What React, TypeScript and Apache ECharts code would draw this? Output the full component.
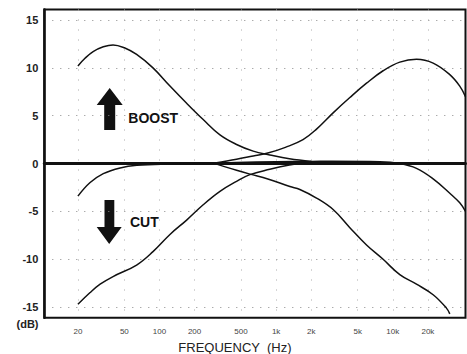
import React, { useEffect, useRef } from "react";
import * as echarts from "echarts";

// Frequency axis tick labels (Hz) and dB ticks
const FREQ_TICKS = [20, 50, 100, 200, 500, 1000, 2000, 5000, 10000, 20000];
const DB_TICKS = [-15, -10, -5, 0, 5, 10, 15];
const FREQ_MIN = 10.3;
const FREQ_MAX = 42000;

// [frequency Hz, level dB]
const BASS_BOOST: [number, number][] = [
  [20, 10.2], [23, 11.0], [27, 11.7], [33, 12.2], [40, 12.4], [50, 12.1],
  [63.7, 11.4], [88, 10.0], [123, 8.1], [171, 6.3], [237, 4.6], [330, 3.0],
  [458, 2.0], [636, 1.3], [883, 0.9], [1300, 0.5], [2000, 0.22],
];
const BASS_CUT: [number, number][] = [
  [20, -14.7], [25.3, -13.5], [31, -12.6], [40, -11.8], [63.7, -10.6], [88, -9.2],
  [123, -7.4], [171, -5.9], [237, -4.3], [330, -2.9], [458, -1.85], [596, -1.15],
  [883, -0.6], [1300, -0.15], [2000, 0.22],
];
const FLAT: [number, number][] = [
  [20, -3.4], [25.3, -2.0], [33, -1.05], [46, -0.45], [64, -0.18], [123, -0.05],
  [237, 0.0], [458, 0.12], [1000, 0.2], [2000, 0.22], [3000, 0.25], [7740, 0.2],
  [11480, 0.0], [15960, -0.5], [22180, -1.6], [30800, -3.1], [37500, -4.1],
  [42000, -5.0],
];
const TREBLE_BOOST: [number, number][] = [
  [300, 0.06], [458, 0.45], [636, 0.8], [849, 1.1], [1200, 1.7],
  [1700, 2.5], [2220, 3.6], [3080, 5.3], [4285, 6.9], [5955, 8.4], [8260, 9.7],
  [11480, 10.6], [15960, 10.9], [22180, 10.5], [30800, 9.3], [37500, 8.1], [42000, 7.0],
];
const TREBLE_CUT: [number, number][] = [
  [300, 0.0], [458, -0.7], [596, -1.1], [849, -1.6], [1312, -2.4],
  [1597, -2.7], [2220, -3.6], [3080, -4.8], [4285, -6.7], [5955, -8.5], [8260, -10.0],
  [11480, -11.6], [15960, -12.6], [22180, -13.7], [28850, -15.1], [30800, -15.7],
];

const CURVES = [BASS_BOOST, BASS_CUT, FLAT, TREBLE_BOOST, TREBLE_CUT];

const FONT = "'Liberation Sans', Arial, Helvetica, sans-serif";

function fmtHz(v: number): string {
  const hz = Math.round(Math.pow(10, v));
  return hz >= 1000 ? hz / 1000 + "k" : String(hz);
}

export default function App() {
  const ref = useRef<HTMLDivElement>(null);
  useEffect(() => {
    if (!ref.current) return;
    const chart = echarts.init(ref.current, undefined, { renderer: "svg" });
    const xTicks = FREQ_TICKS.map((f) => Math.log10(f));
    chart.setOption({
      animation: false,
      backgroundColor: "#fff",
      grid: {
        left: 44.3,
        right: 1.5,
        top: 9.5,
        bottom: 36.3,
        containLabel: false,
        outerBoundsMode: "none",
        show: true,
        borderColor: "#111",
        borderWidth: 2,
        backgroundColor: "transparent",
      },
      xAxis: {
        type: "value",
        min: Math.log10(FREQ_MIN),
        max: Math.log10(FREQ_MAX),
        axisLine: { show: true, lineStyle: { color: "#111", width: 3 } },
        axisTick: { show: false, customValues: xTicks },
        axisLabel: {
          customValues: xTicks,
          formatter: (v: number) => fmtHz(v),
          fontSize: 8,
          color: "#444",
          margin: 10,
          fontFamily: FONT,
        },
        splitLine: {
          show: true,
          lineStyle: { color: "#aaa", width: 1, type: [1, 9] },
        },
        name: "FREQUENCY  (Hz)",
        nameLocation: "middle",
        nameGap: 19,
        nameTextStyle: {
          fontSize: 13,
          color: "#222",
          fontFamily: FONT,
          padding: [0, 40, 0, 0],
        },
      },
      yAxis: {
        type: "value",
        min: -16.1,
        max: 16.1,
        axisLine: { show: true, lineStyle: { color: "#111", width: 2.5 } },
        axisTick: { show: false, customValues: DB_TICKS },
        axisLabel: {
          customValues: DB_TICKS,
          fontSize: 11,
          fontWeight: "bold",
          color: "#222",
          margin: 6,
          fontFamily: FONT,
        },
        splitLine: {
          show: true,
          lineStyle: { color: "#888", width: 1, type: [1, 7] },
        },
      },
      series: CURVES.map((c) => ({
        type: "line",
        data: c.map(([f, d]) => [Math.log10(f), d]),
        smooth: 0.4,
        showSymbol: false,
        symbol: "none",
        lineStyle: { color: "#111", width: 1.5 },
        clip: true,
      })),
      graphic: [
        {
          type: "polygon",
          shape: {
            points: [
              [109.7, 88], [122.7, 105], [115.2, 105], [115.2, 130],
              [104.2, 130], [104.2, 105], [96.7, 105],
            ],
          },
          style: { fill: "#111" },
        },
        {
          type: "polygon",
          shape: {
            points: [
              [104.5, 200], [114.3, 200], [114.3, 227], [121.7, 227],
              [109.2, 244], [96.7, 227], [104.5, 227],
            ],
          },
          style: { fill: "#111" },
        },
        {
          type: "text",
          x: 128.3,
          y: 117.5,
          style: {
            text: "BOOST",
            fill: "#111",
            font: `bold 14px ${FONT}`,
            verticalAlign: "middle",
          },
        },
        {
          type: "text",
          x: 130,
          y: 222,
          style: {
            text: "CUT",
            fill: "#111",
            font: `bold 14px ${FONT}`,
            verticalAlign: "middle",
          },
        },
        {
          type: "text",
          x: 38.5,
          y: 324,
          style: {
            text: "(dB)",
            fill: "#222",
            font: `bold 11px ${FONT}`,
            align: "right",
            verticalAlign: "middle",
          },
        },
      ],
    });
    return () => chart.dispose();
  }, []);
  return (
    <div
      ref={ref}
      style={{ position: "fixed", left: 0, top: 0, width: 467, height: 354 }}
    />
  );
}
